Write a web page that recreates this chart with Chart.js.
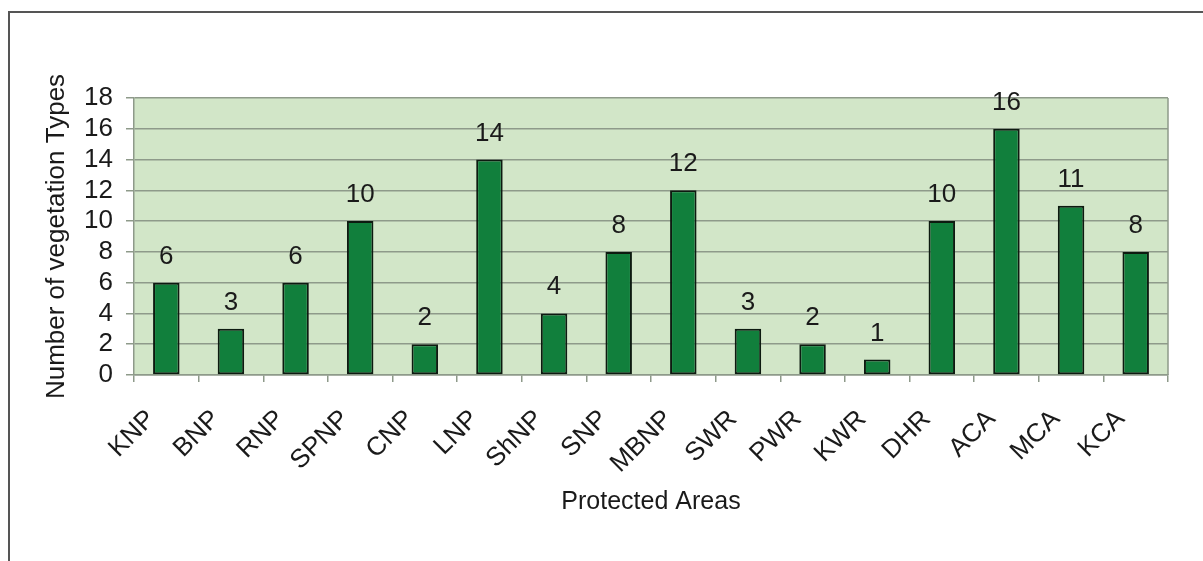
<!DOCTYPE html>
<html>
<head>
<meta charset="utf-8">
<style>
  html, body { margin: 0; padding: 0; background: #ffffff; }
  #wrap { position: relative; width: 1203px; height: 561px; overflow: hidden; }
  #frame { position: absolute; left: 8px; top: 11px; right: -10px; bottom: -10px;
           border-left: 2px solid #555; border-top: 2px solid #555; }
  canvas { position: absolute; left: 0; top: 0; }
</style>
<script src="https://cdn.jsdelivr.net/npm/chart.js@4/dist/chart.umd.min.js"></script>
</head>
<body>
<div id="wrap">
  <div id="frame"></div>
  <canvas id="c" width="1203" height="561"></canvas>
</div>
<script>
// Protected areas and the number of vegetation types recorded in each
const areas = ['KNP', 'BNP', 'RNP', 'SPNP', 'CNP', 'LNP', 'ShNP', 'SNP', 'MBNP',
               'SWR', 'PWR', 'KWR', 'DHR', 'ACA', 'MCA', 'KCA'];
const vegetationTypes = [6, 3, 6, 10, 2, 14, 4, 8, 12, 3, 2, 1, 10, 16, 11, 8];
const yTicks = [0, 2, 4, 6, 8, 10, 12, 14, 16, 18];

const FONT = 'Liberation Sans, Arial, Helvetica, sans-serif';
const TEXT = '#1a1a1a';
const GRID = '#8e9a8a';

// Light green plot background with a grey outline
const plotArea = {
  id: 'plotArea',
  beforeDraw(chart) {
    const { ctx, chartArea: a } = chart;
    ctx.save();
    ctx.fillStyle = '#d2e6c8';
    ctx.fillRect(a.left, a.top, a.right - a.left, a.bottom - a.top);
    ctx.restore();
  },
  afterDatasetsDraw(chart) {
    const { ctx, chartArea: a } = chart;
    ctx.save();
    ctx.strokeStyle = GRID;
    ctx.lineWidth = 1.5;
    ctx.beginPath();
    ctx.moveTo(a.right, a.top);
    ctx.lineTo(a.right, a.bottom);
    ctx.stroke();
    ctx.restore();
  }
};

// Value written above each bar
const valueLabels = {
  id: 'valueLabels',
  afterDatasetsDraw(chart) {
    const { ctx } = chart;
    const meta = chart.getDatasetMeta(0);
    ctx.save();
    ctx.font = '26px ' + FONT;
    ctx.fillStyle = TEXT;
    ctx.textAlign = 'center';
    ctx.textBaseline = 'alphabetic';
    meta.data.forEach((bar, i) => {
      ctx.fillText(String(vegetationTypes[i]), bar.x, bar.y - 19);
    });
    ctx.restore();
  }
};

new Chart(document.getElementById('c'), {
  type: 'bar',
  data: {
    labels: areas,
    datasets: [{
      data: vegetationTypes,
      backgroundColor: '#117f3c',
      borderColor: '#0d1a10',
      borderWidth: 2,
      borderSkipped: false,
      categoryPercentage: 1,
      barPercentage: 0.41
    }]
  },
  options: {
    responsive: false,
    animation: false,
    devicePixelRatio: 1,
    layout: { padding: { top: 98, right: 35, bottom: 36, left: 0 } },
    plugins: { legend: { display: false }, tooltip: { enabled: false } },
    scales: {
      x: {
        afterFit(scale) { scale.height = 150; },
        grid: { drawOnChartArea: false, drawTicks: true, tickLength: 7, color: GRID, lineWidth: 1.5 },
        border: { color: GRID, width: 1.5 },
        ticks: {
          minRotation: 45, maxRotation: 45, autoSkip: false,
          color: TEXT, font: { family: FONT, size: 26 }, padding: 22, labelOffset: -15
        },
        title: {
          display: true, text: 'Protected Areas', color: TEXT,
          font: { family: FONT, size: 25 }, padding: { top: 0, bottom: 8 }
        }
      },
      y: {
        min: 0, max: 18,
        afterFit(scale) { scale.width = 134; },
        afterBuildTicks(scale) { scale.ticks = yTicks.map(v => ({ value: v })); },
        grid: { color: GRID, lineWidth: 1.5, tickLength: 8 },
        border: { color: GRID, width: 1.5 },
        ticks: { autoSkip: false, color: TEXT, font: { family: FONT, size: 26 }, padding: 13 },
        title: {
          display: true, text: 'Number of vegetation Types', color: TEXT,
          font: { family: FONT, size: 26 }, padding: { top: 41, bottom: 0 }
        }
      }
    }
  },
  plugins: [plotArea, valueLabels]
});
</script>
</body>
</html>
